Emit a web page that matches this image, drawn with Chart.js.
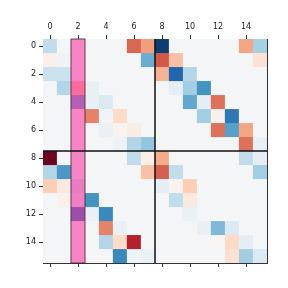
<!DOCTYPE html>
<html>
<head>
<meta charset="utf-8">
<script src="https://cdn.jsdelivr.net/npm/chart.js@4/dist/chart.umd.min.js"></script>
<style>
  body { margin: 0; background: #fff; }
  canvas { display: block; }
</style>
</head>
<body>
<canvas id="heat" width="288" height="288"></canvas>
<script>
// matrix values, row by row (rows 0..15, cols 0..15)
const Z = -0.02;
const values = [
    [-0.25, Z, Z, Z, Z, Z, 0.58, 0.42, -0.95, Z, Z, Z, Z, Z, 0.4, -0.33],
    [0.05, -0.04, Z, Z, Z, Z, Z, -0.5, 0.62, 0.3, Z, Z, Z, Z, Z, 0.15],
    [-0.22, -0.22, Z, Z, Z, Z, Z, Z, 0.35, -0.8, -0.3, Z, Z, Z, Z, Z],
    [Z, -0.3, 0.3, -0.08, Z, Z, Z, Z, Z, -0.1, -0.35, -0.6, Z, Z, Z, Z],
    [Z, Z, -0.5, -0.08, -0.15, Z, Z, Z, Z, Z, -0.52, -0.1, 0.55, Z, Z, Z],
    [Z, Z, Z, 0.5, -0.03, 0.2, Z, Z, Z, Z, Z, -0.35, 0.05, -0.72, Z, Z],
    [Z, Z, Z, Z, -0.07, 0.03, 0.08, Z, Z, Z, Z, Z, 0.55, -0.55, 0.4, Z],
    [Z, Z, Z, Z, Z, -0.06, -0.3, -0.4, Z, Z, Z, Z, Z, Z, 0.55, -0.08],
    [0.98, Z, Z, Z, Z, Z, -0.25, 0.06, 0.38, Z, Z, Z, Z, Z, -0.25, -0.1],
    [-0.3, -0.58, Z, Z, Z, Z, Z, 0.3, 0.6, -0.25, Z, Z, Z, Z, Z, -0.35],
    [0.25, 0.1, -0.2, Z, Z, Z, Z, Z, -0.1, 0.03, 0.25, Z, Z, Z, Z, Z],
    [Z, 0.05, -0.12, -0.6, Z, Z, Z, Z, Z, -0.25, 0.1, Z, Z, Z, Z, Z],
    [Z, Z, -0.65, -0.07, -0.65, Z, Z, Z, Z, Z, -0.07, Z, Z, Z, Z, Z],
    [Z, Z, Z, Z, 0.5, -0.08, Z, Z, Z, Z, Z, -0.08, -0.45, -0.15, Z, Z],
    [Z, Z, Z, Z, -0.3, 0.2, 0.78, Z, Z, Z, Z, Z, 0.02, 0.2, -0.1, Z],
    [Z, Z, Z, Z, Z, -0.65, -0.05, -0.07, Z, Z, Z, Z, Z, 0.15, -0.35, -0.15]
];
const cols = values[0].map((v, i) => i);
const rows = values.map((r, i) => i);
const tickVals = [0, 2, 4, 6, 8, 10, 12, 14];
const highlightCol = 2;
const splitAt = 7.5;

// RdBu_r
const stops = ['#053061', '#2166ac', '#4393c3', '#92c5de', '#d1e5f0', '#f7f7f7',
    '#fddbc7', '#f4a582', '#d6604d', '#b2182b', '#67001f'];
const hex = h => [1, 3, 5].map(i => parseInt(h.substr(i, 2), 16));
const cmap = function (v) {
    let t = Math.max(0, Math.min(1, (v + 1) / 2)) * (stops.length - 1);
    let i = Math.min(Math.floor(t), stops.length - 2);
    let f = t - i;
    let a = hex(stops[i]), b = hex(stops[i + 1]);
    let c = a.map((x, k) => Math.round(x + (b[k] - x) * f));
    return 'rgb(' + c.join(',') + ')';
};

const datasets = rows.map(r => ({
    data: values[r].map(() => [r - 0.5, r + 0.5]),
    backgroundColor: values[r].map(cmap),
    borderColor: values[r].map(cmap),
    borderWidth: 0.3,
    borderSkipped: false,
    grouped: false,
    barPercentage: 1,
    categoryPercentage: 1
}));

const setTicks = s => { s.ticks = tickVals.map(v => ({value: v})); };
const tickFont = {family: 'DejaVu Sans', size: 8};
const tickAxis = (pos, size, showLabels) => ({
    type: 'linear',
    position: pos,
    min: -0.5,
    max: 15.5,
    offset: false,
    reverse: pos === 'left',
    afterBuildTicks: setTicks,
    afterFit: s => { if (pos === 'left') s.width = size; else s.height = size; },
    grid: {drawOnChartArea: false, drawTicks: true, tickLength: 4, color: '#333', tickColor: '#333', offset: false},
    border: {display: true, color: '#333', width: 1},
    ticks: {display: showLabels, font: tickFont, color: '#222', padding: 3, maxRotation: 0}
});

const overlay = {
    id: 'overlay',
    afterDatasetsDraw(chart) {
        const ctx = chart.ctx, a = chart.chartArea;
        const xs = chart.scales.xt, ys = chart.scales.y;
        // highlighted column
        let x0 = xs.getPixelForValue(highlightCol - 0.5);
        let x1 = xs.getPixelForValue(highlightCol + 0.5);
        ctx.save();
        ctx.fillStyle = 'rgba(255,20,147,0.5)';
        ctx.fillRect(x0, a.top, x1 - x0, a.bottom - a.top);
        ctx.strokeStyle = 'rgba(70,40,50,0.85)';
        ctx.lineWidth = 1;
        ctx.strokeRect(x0, a.top, x1 - x0, a.bottom - a.top);
        // block separators
        let xp = xs.getPixelForValue(splitAt);
        let yp = ys.getPixelForValue(splitAt);
        ctx.strokeStyle = '#111';
        ctx.lineWidth = 1.5;
        ctx.beginPath();
        ctx.moveTo(xp, a.top); ctx.lineTo(xp, a.bottom);
        ctx.moveTo(a.left, yp); ctx.lineTo(a.right, yp);
        ctx.stroke();
        ctx.restore();
    }
};

new Chart(document.getElementById('heat').getContext('2d'), {
    type: 'bar',
    data: {labels: cols, datasets: datasets},
    options: {
        responsive: false,
        animation: false,
        plugins: {legend: {display: false}, tooltip: {enabled: false}},
        layout: {padding: 0},
        scales: {
            x: {type: 'category', display: false, offset: true},
            y: tickAxis('left', 43, true),
            xt: tickAxis('top', 39, true),
            xb: tickAxis('bottom', 25, false),
            yr: {
                type: 'linear', position: 'right', min: -0.5, max: 15.5,
                afterFit: s => { s.width = 21; },
                grid: {display: false},
                border: {display: true, color: '#333', width: 1},
                ticks: {display: false}
            }
        }
    },
    plugins: [overlay]
});
</script>
</body>
</html>
